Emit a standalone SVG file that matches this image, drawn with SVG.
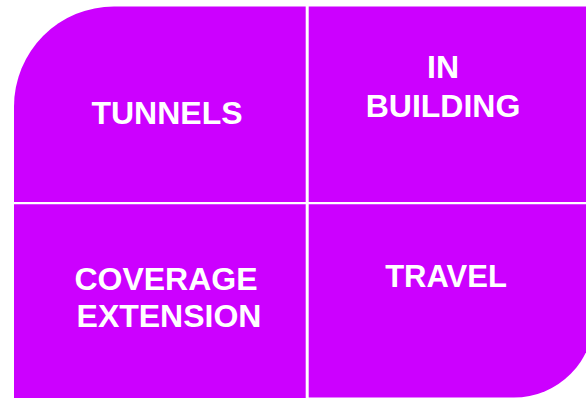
<svg xmlns="http://www.w3.org/2000/svg" width="586" height="398" viewBox="0 0 586 398">
<style>
.q{fill:#cc00ff;}
.t{fill:#ffffff;font-family:"Liberation Sans",Arial,sans-serif;font-weight:bold;font-size:32px;text-anchor:middle;}
</style>
<rect width="586" height="398" fill="#ffffff"/>
<g id="tunnels">
<path class="q" d="M14,202 V106.5 A100,100 0 0 1 114,6.5 H305.7 V202 Z"/>
<text class="t" x="167" y="124">TUNNELS</text>
</g>
<g id="in-building">
<path class="q" d="M308.7,6.5 H596 V202 H308.7 Z"/>
<text class="t" x="443" y="78">IN</text>
<text class="t" x="443" y="117">BUILDING</text>
</g>
<g id="coverage-extension">
<path class="q" d="M14,204.3 H305.7 V398 H14 Z"/>
<text class="t" x="166" y="290">COVERAGE</text>
<text class="t" x="169" y="327">EXTENSION</text>
</g>
<g id="travel">
<path class="q" d="M308.7,204.3 H594 V317.5 A80,80 0 0 1 514,397.5 H308.7 Z"/>
<text class="t" x="446" y="287" style="font-size:31px">TRAVEL</text>
</g>
<g id="connectors"></g>
</svg>
